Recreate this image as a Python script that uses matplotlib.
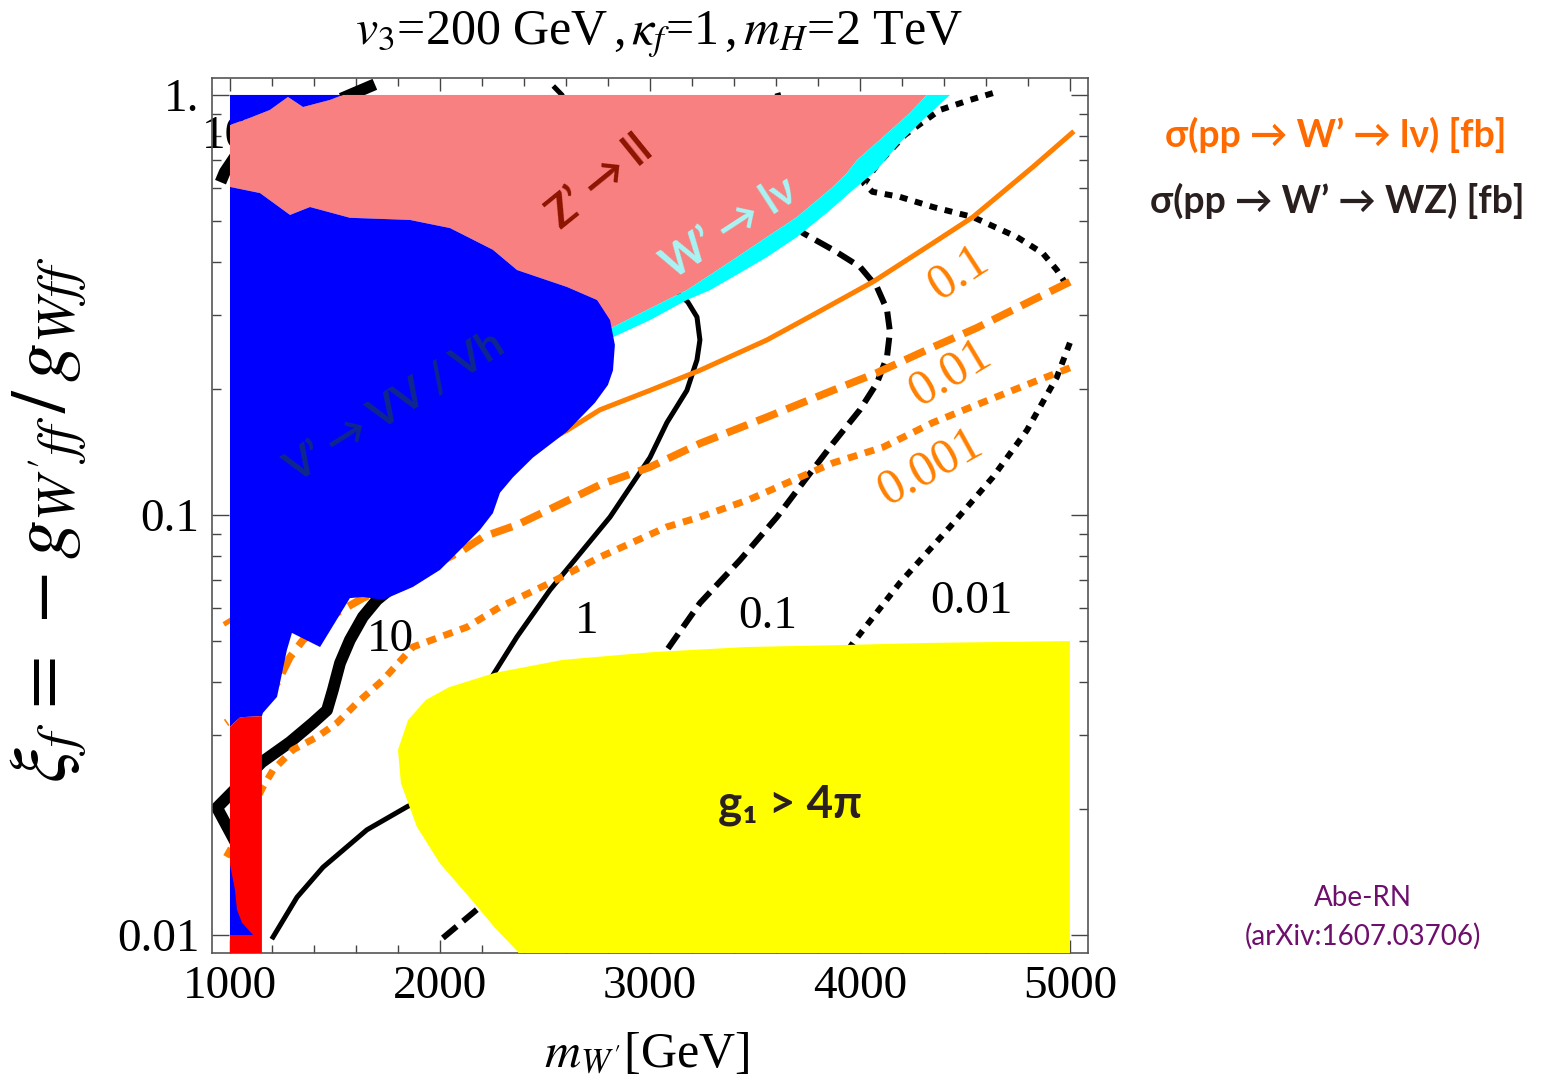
import matplotlib.pyplot as plt
from matplotlib.ticker import NullFormatter

plt.rcParams['font.family'] = ['Liberation Serif', 'DejaVu Serif']
plt.rcParams['mathtext.fontset'] = 'stix'

# region boundaries, (m_W' [GeV], xi_f)
# Z' -> ll : top edge on the left
zll_top_mass = [1000, 1095, 1190, 1276, 1348, 1476, 1538]
zll_top_xi = [0.848, 0.882, 0.921, 0.989, 0.936, 0.973, 1.0]
# Z' -> ll / W' -> lv boundary, from the top going down
wlv_upper_mass = [4319, 4238, 4110, 3986, 3938, 3871, 3700, 3557, 3395, 3176, 3081, 2919, 2824, 2786]
wlv_upper_xi = [1.0, 0.906, 0.794, 0.700, 0.652, 0.604, 0.512, 0.459, 0.405, 0.343, 0.325, 0.296, 0.280, 0.276]
# Z' -> ll / V' -> VV boundary, right to left
zll_low_mass = [2748, 2605, 2367, 2252, 2048, 1857, 1571, 1381, 1286, 1143, 1000]
zll_low_xi = [0.325, 0.349, 0.383, 0.428, 0.482, 0.504, 0.510, 0.541, 0.518, 0.584, 0.604]
# W' -> lv lower edge, left to right
wlv_lower_mass = [2786, 2824, 3000, 3176, 3286, 3429, 3557, 3700, 3843, 3967, 4081, 4190, 4300, 4429]
wlv_lower_xi = [0.261, 0.265, 0.291, 0.325, 0.343, 0.377, 0.411, 0.459, 0.524, 0.594, 0.663, 0.769, 0.872, 1.0]
# V' -> VV / Vh lower edge
vv_edge_mass = [2810, 2833, 2824, 2800, 2738, 2605, 2443, 2348, 2286, 2252, 2190, 2095, 2000,
                1871, 1729, 1633, 1571, 1429, 1295, 1271, 1224, 1157, 1152, 1048, 1000]
vv_edge_xi = [0.291, 0.254, 0.221, 0.204, 0.185, 0.158, 0.137, 0.123, 0.113, 0.101, 0.0921, 0.0825, 0.0740,
              0.0674, 0.0628, 0.0638, 0.0634, 0.0485, 0.0524, 0.0477, 0.0369, 0.0338, 0.0332, 0.0330, 0.0313]
vv_tail_mass = [1000, 1024, 1033, 1057, 1110, 1000]
vv_tail_xi = [0.0147, 0.0128, 0.0115, 0.0107, 0.0100, 0.0100]
red_mass = [1000, 1048, 1152, 1152, 1000]
red_xi = [0.0313, 0.0330, 0.0332, 0.008, 0.008]
# g1 > 4 pi
g1_mass = [5000, 4333, 3900, 3462, 3024, 2586, 2262, 2043, 1933, 1848, 1800, 1814, 1890,
           2000, 2152, 2262, 2371, 2420, 5000]
g1_xi = [0.0501, 0.0496, 0.0490, 0.0485, 0.0472, 0.0452, 0.0421, 0.0389, 0.0363, 0.0325, 0.0276, 0.0230, 0.0181,
         0.0148, 0.0121, 0.0104, 0.00912, 0.008, 0.008]

# sigma(pp -> W' -> WZ) [fb] contours
wz10_mass = [1030, 938, 1152, 1286, 1395, 1462, 1490, 1524, 1571, 1633, 1700, 1786]
wz10_xi = [0.0165, 0.0201, 0.0258, 0.0288, 0.0320, 0.0343, 0.0383, 0.0444, 0.0504, 0.0572, 0.0628, 0.0681]
wz10_top_mass = [1530, 1690]
wz10_top_xi = [0.98, 1.06]
wz10_left_mass = [1030, 975, 955]
wz10_left_xi = [0.72, 0.655, 0.62]
wz1_mass = [1205, 1319, 1443, 1652, 1843, 2000, 2143, 2238, 2367, 2524, 2810, 3000, 3081, 3176, 3224, 3238,
            3224, 3181, 3119, 2857, 2714, 2581, 2548]
wz1_xi = [0.00989, 0.0123, 0.0145, 0.0178, 0.0202, 0.0221, 0.0283, 0.0405, 0.0513, 0.0663, 0.0989, 0.137, 0.166,
          0.198, 0.234, 0.261, 0.296, 0.321, 0.343, 0.477, 0.700, 1.0, 1.04]
wz01_mass = [2014, 2176, 2619, 3081, 3238, 3429, 3605, 3748, 3871, 4000, 4081, 4129, 4143, 4129, 4081, 4000,
             3871, 3729, 3667, 3619, 3610, 3600]
wz01_xi = [0.00984, 0.0115, 0.0221, 0.0477, 0.0617, 0.0781, 0.0989, 0.123, 0.148, 0.178, 0.206, 0.238, 0.273,
           0.308, 0.349, 0.390, 0.428, 0.469, 0.562, 0.825, 1.0, 1.04]
wz001a_mass = [4633, 4524, 4381, 4214, 4080, 4020, 4060, 4190, 4348, 4538, 4748, 4871, 4938, 5000]
wz001a_xi = [1.01, 0.973, 0.921, 0.803, 0.68, 0.615, 0.588, 0.572, 0.541, 0.512, 0.459, 0.420, 0.383, 0.343]
wz001b_mass = [5000, 4938, 4795, 4633, 4429, 4190, 3967, 3810, 3524]
wz001b_xi = [0.257, 0.213, 0.159, 0.123, 0.0937, 0.0689, 0.0496, 0.0383, 0.0234]

# sigma(pp -> W' -> lv) [fb] contours
lv01_mass = [5010, 4824, 4538, 4348, 4062, 3795, 3557, 3238, 3000, 2762, 2605, 2476, 2200, 1800, 1400, 981]
lv01_xi = [0.812, 0.674, 0.512, 0.444, 0.359, 0.303, 0.261, 0.221, 0.198, 0.178, 0.159, 0.147, 0.125, 0.100,
           0.075, 0.0553]
lv001_mass = [5000, 4824, 4557, 4348, 4081, 3871, 3557, 3238, 3000, 2762, 2571, 2367, 2205, 2110, 1905, 1633,
              1510, 1348, 1286, 1224, 1119, 981]
lv001_xi = [0.359, 0.325, 0.279, 0.251, 0.218, 0.198, 0.171, 0.148, 0.130, 0.118, 0.106, 0.0947, 0.0887, 0.0825,
            0.0731, 0.0634, 0.0585, 0.0504, 0.0459, 0.0398, 0.0357, 0.0320]
lv0001_mass = [5000, 4824, 4557, 4348, 4110, 3871, 3714, 3476, 3238, 3081, 2762, 2524, 2286, 2129, 1871, 1729,
               1605, 1510, 1414, 1300, 1205, 1157, 1060, 981]
lv0001_xi = [0.224, 0.207, 0.183, 0.166, 0.145, 0.133, 0.123, 0.109, 0.0989, 0.0937, 0.0794, 0.0689, 0.0604,
             0.0541, 0.0485, 0.0405, 0.0357, 0.0320, 0.0296, 0.0276, 0.0247, 0.0225, 0.018, 0.0153]

x_major = [1000, 2000, 3000, 4000, 5000]
x_labels = ['1000', '2000', '3000', '4000', '5000']
y_major = [0.01, 0.1, 1.0]
y_labels = ['0.01', '0.1', '1.']

ORANGE = '#ff8000'

fig = plt.figure(figsize=(15.56, 10.83), dpi=100)
ax = fig.add_axes([0.1362, 0.1200, 0.5630, 0.8080])
ax.set_yscale('log')
ax.set_xlim(914, 5086)
ax.set_ylim(0.00906, 1.0975)

# shaded regions
ax.fill(zll_top_mass + wlv_upper_mass + zll_low_mass, zll_top_xi + wlv_upper_xi + zll_low_xi,
        color='#f88080', lw=0, zorder=3)
ax.fill(wlv_upper_mass + wlv_lower_mass, wlv_upper_xi + wlv_lower_xi, color='#00ffff', lw=0, zorder=3.1)
ax.fill([1000] + zll_top_mass[::-1], [1.0] + zll_top_xi[::-1], color='#0000ff', lw=0, zorder=3.2)
ax.fill(zll_low_mass[::-1] + vv_edge_mass, zll_low_xi[::-1] + vv_edge_xi, color='#0000ff', lw=0, zorder=3.2)
ax.fill(red_mass, red_xi, color='#ff0000', lw=0, zorder=3.3)
ax.fill(vv_tail_mass, vv_tail_xi, color='#0000ff', lw=0, zorder=3.4)
ax.fill(g1_mass, g1_xi, color='#ffff00', lw=0, zorder=3.5)

# WZ cross-section contours
ax.plot(wz10_mass, wz10_xi, color='k', lw=8.5, solid_capstyle='butt', zorder=2)
ax.plot(wz10_top_mass, wz10_top_xi, color='k', lw=8.5, solid_capstyle='butt', zorder=2)
ax.plot(wz10_left_mass, wz10_left_xi, color='k', lw=8.5, solid_capstyle='butt', zorder=2)
ax.plot(wz1_mass, wz1_xi, color='k', lw=3.6, zorder=2)
ax.plot(wz01_mass, wz01_xi, color='k', lw=4.3, ls=(0, (3.0, 1.4)), zorder=2)
ax.plot(wz001a_mass, wz001a_xi, color='k', lw=4.3, ls=(0, (1.3, 1.3)), zorder=2)
ax.plot(wz001b_mass, wz001b_xi, color='k', lw=4.3, ls=(0, (1.3, 1.3)), zorder=2)

# lv cross-section contours
ax.plot(lv01_mass, lv01_xi, color=ORANGE, lw=3.6, zorder=2.1)
ax.plot(lv001_mass, lv001_xi, color=ORANGE, lw=5.5, ls=(0, (2.9, 1.3)), zorder=2.1)
ax.plot(lv0001_mass, lv0001_xi, color=ORANGE, lw=5.0, ls=(0, (1.4, 1.15)), zorder=2.1)

# contour labels
num_font = dict(fontsize=34, ha='center', va='center', zorder=5)
ax.text(1762, 0.0504, '10', **num_font)
ax.text(2700, 0.0556, '1', **num_font)
ax.text(3562, 0.0572, '0.1', **num_font)
ax.text(4533, 0.0621, '0.01', **num_font)
ax.text(976, 0.794, '10', fontsize=34, ha='center', va='center', zorder=2.5)
ax.text(4471, 0.377, '0.1', color=ORANGE, rotation=33, fontsize=36, ha='center', va='center', zorder=5)
ax.text(4429, 0.217, '0.01', color=ORANGE, rotation=31, fontsize=36, ha='center', va='center', zorder=5)
ax.text(4333, 0.130, '0.001', color=ORANGE, rotation=29, fontsize=36, ha='center', va='center', zorder=5)

# region labels
sans = ['Lato', 'DejaVu Sans']
ax.text(2762, 0.621, 'Z\u2019 \u2192 ll', family=sans, weight='bold', fontsize=31, color='#8c1400',
        rotation=39, ha='center', va='center', zorder=6)
ax.text(3381, 0.482, 'W\u2019 \u2192 l\u03bd', family=sans, weight='bold', fontsize=31, color='#a8f4f4',
        rotation=33, ha='center', va='center', zorder=6)
ax.text(1786, 0.180, 'V\u2019 \u2192 VV / Vh', family=sans, weight='bold', fontsize=30, color='#0f288c',
        rotation=32, ha='center', va='center', zorder=6)
ax.text(3667, 0.0204, 'g\u2081 > 4\u03c0', family=sans, weight='bold', fontsize=33, color='#2b2020',
        ha='center', va='center', zorder=6)

# axes and ticks
ax.set_xticks(x_major)
ax.set_xticklabels(x_labels)
ax.set_xticks(range(1000, 5001, 200), minor=True)
ax.set_yticks(y_major)
ax.set_yticklabels(y_labels)
ax.set_yticks([m * 10.0 ** e for e in (-2, -1) for m in range(2, 10)], minor=True)
ax.yaxis.set_minor_formatter(NullFormatter())
ax.tick_params(which='both', direction='in', top=True, right=True, color='#444444', width=1.0,
               labelsize=34, pad=9)
ax.tick_params(axis='x', which='major', length=9.5)
ax.tick_params(axis='x', which='minor', length=6)
ax.tick_params(axis='y', which='major', length=12)
ax.tick_params(axis='y', which='minor', length=6.5)
for sp in ax.spines.values():
    sp.set_color('#555555')
    sp.set_linewidth(1.2)

ax.set_xlabel(r"$m_{W'}$[GeV]", fontsize=36, va='center')
ax.xaxis.set_label_coords(0.4966, -0.1166)
ax.set_ylabel(r"$\xi_f\,=\,-g_{W'ff}\,/\,g_{Wff}$", fontsize=56, va='center')
ax.yaxis.set_label_coords(-0.186, 0.495)

fig.text(0.4235, 0.9677, r"$v_3$=200 GeV$\,$,$\,\kappa_f$=1$\,$,$\,m_H$=2 TeV", fontsize=36,
         ha='center', va='center')

fig.text(0.8586, 0.8753, '\u03c3(pp \u2192 W\u2019 \u2192 l\u03bd) [fb]', family=sans, weight='bold',
         fontsize=27, color='#ff6a00', ha='center', va='center')
fig.text(0.8593, 0.8144, '\u03c3(pp \u2192 W\u2019 \u2192 WZ) [fb]', family=sans, weight='bold',
         fontsize=27, color='#2a1f1f', ha='center', va='center')
fig.text(0.876, 0.1708, 'Abe-RN', family=sans, fontsize=20, color='#6e0f6e', ha='center', va='center')
fig.text(0.876, 0.1357, '(arXiv:1607.03706)', family=sans, fontsize=20, color='#6e0f6e',
         ha='center', va='center')

fig.savefig('out.png', dpi=100)
